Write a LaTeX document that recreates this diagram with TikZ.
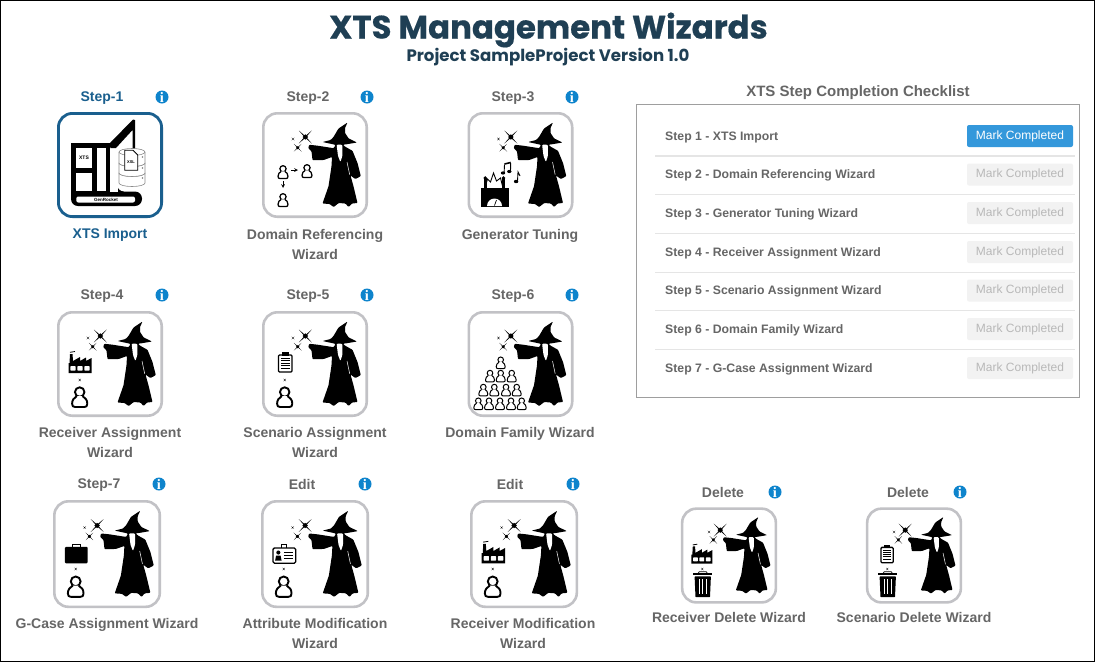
\documentclass[tikz,border=0pt]{standalone}
\usepackage{fontspec}
\setmainfont{Liberation Sans}
\newfontfamily\titlefont[BoldFeatures={FakeBold=0.5}]{Poppins}
\newfontfamily\subfont{Poppins}
\newfontfamily\ifont{Liberation Serif}
\definecolor{gr}{HTML}{666666}
\definecolor{stepblue}{HTML}{1A5F8E}
\definecolor{infoblue}{HTML}{0E84CC}
\definecolor{boxgray}{HTML}{C2C2C6}
\definecolor{navy}{HTML}{1F3F54}
\definecolor{btnblue}{HTML}{3498DB}
\usetikzlibrary{calc}
\tikzset{
  x=1pt,y=-1pt,
  steplabel/.style={font=\bfseries\fontsize{14}{20}\selectfont,text=gr,align=center,inner sep=0pt},
  bluelabel/.style={steplabel,text=stepblue},
  checkitem/.style={font=\bfseries\fontsize{12.25}{14}\selectfont,text=gr,anchor=west,inner sep=0pt},
  btnon/.style={fill=btnblue,rounded corners=2pt,text=white,minimum width=106pt,minimum height=22pt,inner sep=0pt,font=\fontsize{12}{14}\selectfont},
  btnoff/.style={btnon,fill=black!5,text=black!28},
  sepline/.style={draw=black!10,line width=1pt},
  star/.pic={
    \fill[black] (-1,-1)--(-0.14,0)--(-1,1)--(0,0.14)--(1,1)--(0.14,0)--(1,-1)--(0,-0.14)--cycle;
    \fill[black] (0,-0.42)--(0.42,0)--(0,0.42)--(-0.42,0)--cycle;
  },
  wizard/.pic={
    \fill[black,rounded corners=0.8pt] (85.5,10.5)--(76.5,16.5)--(71.5,25)--(68.5,28)--(60.5,30)--(72,32.5)--(73.5,33)--(71.7,36.2)--(55,33.6)--(47.2,32.8)--(46.2,36)--(49.5,39.3)--(50.5,48.2)--(61.7,48)--(70,45)--(69.5,54.3)--(66.5,74.3)--(60.5,91.5)--(67.5,92)--(71.7,95)--(76.7,91)--(83.3,91.5)--(86.7,95)--(90,91.5)--(95.5,91)--(91.5,74.3)--(88.5,63.5)--(93.3,67)--(98.8,64.2)--(95.5,51)--(90.5,38.8)--(83.3,34.8)--(81,32.7)--(85,32.2)--(95,30.5)--(86.7,26.5)--(83,21)--(83,16)--cycle;
    \fill[white,rounded corners=1pt] (74.6,32.6)--(80.4,32.8)--(80.4,44)--(78.4,50)--(76,44)--cycle;
    \draw[white,line width=.5pt] (85,50)--(87.7,62.7);
    \pic[scale=6.5] at (43.3,25) {star};
    \pic[scale=3.8] at (35.7,35.7) {star};
    \pic[scale=1.4] at (31,27) {star};
  },
  person/.pic={
    \draw[black] (0,-5.2) circle (5);
    \draw[black,fill=white,line join=round] (-3,-1) .. controls (-6,1) and (-8,3) .. (-8,7) .. controls (-8,9.5) and (-7,10.5) .. (-5,10.5) -- (5,10.5) .. controls (7,10.5) and (8,9.5) .. (8,7) .. controls (8,3) and (6,1) .. (3,-1);
  },
  factory/.pic={
    \fill[black] (11.5,62)--(11.5,52)--(12.5,52)--(13,43)--(15.5,43)--(16,50)--(23,46)--(23,50)--(29,46.5)--(29,50)--(34.5,47)--(34.5,62)--cycle;
    \draw[black,line width=.8pt] (13,41.3)--(18,40.5);
    \foreach \wx in {16,23,30}{\fill[white,rounded corners=.6pt] (\wx-2.6,55)rectangle(\wx+2.6,59.5);}
  },
  clipboard/.pic={
    \draw[black,line width=1.3pt,fill=white,rounded corners=1pt] (16.5,44)rectangle(30,61);
    \fill[black] (20,41)rectangle(26.5,45);
    \foreach \ly in {47,49.5,52,54.5,57}{\draw[black,line width=.9pt] (18.8,\ly)--(27.8,\ly);}
  },
  briefcase/.pic={
    \fill[black,rounded corners=1pt] (11.7,46)rectangle(34,62);
    \draw[black,line width=1pt] (19,46)--(19,43.5)--(26.5,43.5)--(26.5,46);
  },
  badge/.pic={
    \draw[black,line width=1.3pt,fill=white,rounded corners=1.5pt] (11.7,47)rectangle(34,62);
    \draw[black,line width=.9pt] (20.5,47)--(20.5,43.8)--(25,43.8)--(25,47);
    \fill[black] (17,51.5) circle (2);
    \fill[black] (13.8,59.5)--(14.8,54.5)--(19.2,54.5)--(20.2,59.5)--cycle;
    \foreach \ly in {51.5,54.5,57.5}{\draw[black,line width=.9pt] (22.5,\ly)--(31.5,\ly);}
  },
  trash/.pic={
    \fill[black,rounded corners=.6pt] (15,76)--(33,76)--(32,99)--(16,99)--cycle;
    \fill[black] (13.5,72.5)rectangle(34.5,74.8);
    \draw[black,line width=.7pt] (19,72.5)--(20,71)--(28,71)--(29,72.5);
    \foreach \lx in {20,24,28}{\draw[white,line width=.8pt] (\lx,79)--(\lx,95);}
  },
  boxframe/.pic={
    \draw[draw=boxgray,line width=2.6pt,rounded corners=14pt,fill=white] (1.3,1.3)rectangle(104.7,104.7);
  },
  crane/.pic={
    \fill[black,rounded corners=7pt] (14,60)--(14,94)--(85,94)--(85,79.5)--(60,79.5)--(60,60)--cycle;
    \fill[black] (14,31)rectangle(53.3,83);
    \fill[white,rounded corners=2pt] (19.3,84.5)rectangle(78,90.5);
    \fill[white] (19.3,36)rectangle(35,56);
    \fill[white] (19.3,61)rectangle(35,79);
    \fill[white] (40,36)rectangle(49,79);
    \fill[white] (53.3,60)rectangle(61,79.5);
    \fill[black] (53,31)--(76,7.5)--(78,8)--(78,40)--(75.5,40)--(75.5,18)--(59,36)--(53.3,36)--cycle;
    \foreach \dy/\dh in {61/71,51/61,40/51}{
      \draw[black!45,fill=white,line width=.6pt] (62,\dy)--(62,\dh) arc[start angle=180,end angle=360,x radius=13,y radius=-3.5]--(88,\dy) arc[start angle=0,end angle=180,x radius=13,y radius=-3.5]--cycle;
      \draw[black!45,line width=.6pt] (62,\dy) arc[start angle=180,end angle=360,x radius=13,y radius=-3.5];
      \fill[black!50] (85.5,\dy+5) circle (.9);
    }
    \draw[black,line width=.8pt,fill=white] (67.7,38.3)--(76,38.3)--(80.7,43)--(80.7,58.3)--(67.7,58.3)--cycle;
    \node[inner sep=0pt,font=\bfseries\fontsize{4}{4}\selectfont] (xmltag) at (74,50) {XSL};
    \node[inner sep=0pt,font=\bfseries\fontsize{5}{5}\selectfont] (xtstag) at (27,46) {XTS};
    \node[inner sep=0pt,font=\bfseries\fontsize{4.5}{5}\selectfont] (grtag) at (49,87.5) {GenRocket};
  },
}
\newcommand\infoicon[3]{%
  \fill[infoblue] (#2,#3) circle (6.5);
  \node[inner sep=0pt,text=white,font=\ifont\bfseries\fontsize{14.5}{14}\selectfont] (#1) at (#2,#3) {i};
}
\begin{document}
\begin{tikzpicture}
\useasboundingbox (0,0) rectangle (1095,662);
\fill[white] (0,0) rectangle (1095,662);
\draw[black,line width=1pt] (.5,.5) rectangle (1094.5,661.5);

\node[inner sep=0pt,text=navy,font=\titlefont\bfseries\fontsize{32.4}{36}\selectfont] (title) at (548.5,30) {XTS Management Wizards};
\node[inner sep=0pt,text=navy,font=\subfont\bfseries\fontsize{16.6}{18}\selectfont] (subtitle) at (548,57.5) {Project SampleProject Version 1.0};

% step 1
\node[bluelabel] (s1) at (102,98.5) {Step-1};
\infoicon{i1}{162}{97}
\draw[draw=stepblue,line width=2.8pt,rounded corners=14pt,fill=white] (58.4,113.4) rectangle (161.6,216.6);
\pic at (57,112) {crane};
\node[bluelabel] (l1) at (110,235.5) {XTS Import};

% step 2
\node[steplabel] (s2) at (308,98.5) {Step-2};
\infoicon{i2}{367}{97}
\pic at (262,112) {boxframe};
\pic at (262,112) {wizard};
\pic[scale=.62,line width=1.25pt] at (283,172) {person};
\pic[scale=.62,line width=1.25pt] at (307,171) {person};
\pic[scale=.62,line width=1.25pt] at (283,200) {person};
\draw[black,line width=.7pt,-stealth] (291,170)--(298,170);
\draw[black,line width=.7pt,-stealth] (283,181)--(283,188);
\node[steplabel] (l2) at (315,244) {Domain Referencing\\Wizard};

% step 3
\node[steplabel] (s3) at (513,98.5) {Step-3};
\infoicon{i3}{572}{97}
\pic at (467.5,112) {boxframe};
\pic at (467.5,112) {wizard};
\begin{scope}[shift={(467.5,112)}]
  \fill[black] (13,76)rectangle(41,94.5);
  \fill[black] (17.7,66) circle (1.9);
  \fill[black] (36,66) circle (1.9);
  \fill[black] (16,66)rectangle(19.4,77);
  \fill[black] (34.3,66)rectangle(37.7,77);
  \draw[black,line width=.9pt] (18,74)--(20,67)--(23,70)--(26,61)--(29,69)--(33,66)--(35,74);
  \fill[white] (34.5,94) -- (19.5,94) arc[start angle=180,end angle=360,radius=7.5] --cycle;
  \draw[black,line width=.7pt] (27,93.5)--(29,88);
  % notes
  \draw[black,line width=.9pt] (36.6,61)--(37,52.5);
  \draw[black,line width=.9pt] (43,59)--(43.2,51);
  \draw[black,line width=1.6pt] (37,52)--(43.2,50.5);
  \fill[black] (35.5,61) ellipse (2.2 and 1.6);
  \fill[black] (41.8,59.5) ellipse (2.2 and 1.6);
  \draw[black,line width=.9pt] (50,69)--(50.5,60)--(52.5,64);
  \fill[black] (48.6,69.5) ellipse (2.2 and 1.7);
\end{scope}
\node[steplabel] (l3) at (520,235.5) {Generator Tuning};

% step 4
\node[steplabel] (s4) at (102,296.5) {Step-4};
\infoicon{i4}{162}{295}
\pic at (57,311) {boxframe};
\pic at (57,311) {wizard};
\pic at (57,311) {factory};
\pic[scale=1.4] at (79.7,380) {star};
\pic[scale=.95,line width=1.9pt] at (79.7,397) {person};
\node[steplabel] (l4) at (110,442) {Receiver Assignment\\Wizard};

% step 5
\node[steplabel] (s5) at (308,296.5) {Step-5};
\infoicon{i5}{367}{295}
\pic at (262,311) {boxframe};
\pic at (262,311) {wizard};
\pic at (262,311) {clipboard};
\pic[scale=1.4] at (284.7,380) {star};
\pic[scale=.95,line width=1.9pt] at (284.7,397) {person};
\node[steplabel] (l5) at (315,442) {Scenario Assignment\\Wizard};

% step 6
\node[steplabel] (s6) at (513,296.5) {Step-6};
\infoicon{i6}{572}{295}
\pic at (467.5,311) {boxframe};
\pic at (467.5,311) {wizard};
\foreach \px/\py in {500.7/362.7, 490/376, 500.7/376, 511.7/376, 483.3/390, 494.3/390, 506/390, 516.7/390, 478.3/403.7, 489/403.7, 500/403.7, 511/403.7, 521.7/403.7}{
  \pic[scale=.56,line width=1pt] at (\px,\py) {person};
}
\node[steplabel] (l6) at (520,433.5) {Domain Family Wizard};

% step 7
\node[steplabel] (s7) at (99,485.5) {Step-7};
\infoicon{i7}{159}{484}
\pic[scale=1.02] at (53,500) {boxframe};
\pic[scale=1.02] at (53,500) {wizard};
\pic[scale=1.02] at (53,500) {briefcase};
\pic[scale=1.4] at (75.7,569) {star};
\pic[scale=.98,line width=1.9pt] at (75.7,586.5) {person};
\node[steplabel] (l7) at (107,624.5) {G-Case Assignment Wizard};

% edit attribute
\node[steplabel] (s8) at (302,484) {Edit};
\infoicon{i8}{365}{484}
\pic[scale=1.02] at (261,500) {boxframe};
\pic[scale=1.02] at (261,500) {wizard};
\pic[scale=1.02] at (261,500) {badge};
\pic[scale=1.4] at (283.7,569) {star};
\pic[scale=.98,line width=1.9pt] at (283.7,586.5) {person};
\node[steplabel] (l8) at (315,633) {Attribute Modification\\Wizard};

% edit receiver
\node[steplabel] (s9) at (510,484) {Edit};
\infoicon{i9}{573}{484}
\pic[scale=1.02] at (470,500) {boxframe};
\pic[scale=1.02] at (470,500) {wizard};
\pic[scale=1.02] at (470,500) {factory};
\pic[scale=1.4] at (492.7,569) {star};
\pic[scale=.98,line width=1.9pt] at (492.7,586.5) {person};
\node[steplabel] (l9) at (523,633) {Receiver Modification\\Wizard};

% delete receiver
\node[steplabel] (s10) at (723,492) {Delete};
\infoicon{i10}{775}{492}
\pic[scale=.906] at (681,507.5) {boxframe};
\pic[scale=.906] at (681,507.5) {wizard};
\pic[scale=.906] at (681,507.5) {factory};
\pic[scale=1.3] at (702.3,569) {star};
\pic[scale=.906] at (681,507.5) {trash};
\node[steplabel] (l10) at (729,617) {Receiver Delete Wizard};

% delete scenario
\node[steplabel] (s11) at (908,492) {Delete};
\infoicon{i11}{960}{492}
\pic[scale=.906] at (866,507.5) {boxframe};
\pic[scale=.906] at (866,507.5) {wizard};
\pic[scale=.906] at (866,507.5) {clipboard};
\pic[scale=1.3] at (887.3,569) {star};
\pic[scale=.906] at (866,507.5) {trash};
\node[steplabel] (l11) at (914,617) {Scenario Delete Wizard};

% checklist
\node[steplabel,font=\bfseries\fontsize{15}{20}\selectfont] (ctitle) at (858,92.5) {XTS Step Completion Checklist};
\node[draw=black!38,line width=1pt,minimum width=443pt,minimum height=293pt,inner sep=0pt] (cbox) at (858,250.5) {};
\foreach \n/\yy/\t in {1/136/Step 1 - XTS Import,2/174.5/Step 2 - Domain Referencing Wizard,3/213/Step 3 - Generator Tuning Wizard,4/252/Step 4 - Receiver Assignment Wizard,5/290.5/Step 5 - Scenario Assignment Wizard,6/329/Step 6 - Domain Family Wizard,7/368/Step 7 - G-Case Assignment Wizard}{
  \node[checkitem] (c\n) at (665,\yy+1.2) {\t};
  \ifnum\n=1
    \node[btnon] (b\n) at (1020,\yy) {Mark Completed};
  \else
    \node[btnoff] (b\n) at (1020,\yy) {Mark Completed};
  \fi
}
\draw[sepline,line width=1.4pt] (655,156)--(1075,156);
\foreach \yy in {194.5,233,272,310,349}{\draw[sepline] (655,\yy)--(1075,\yy);}
\end{tikzpicture}
\end{document}
